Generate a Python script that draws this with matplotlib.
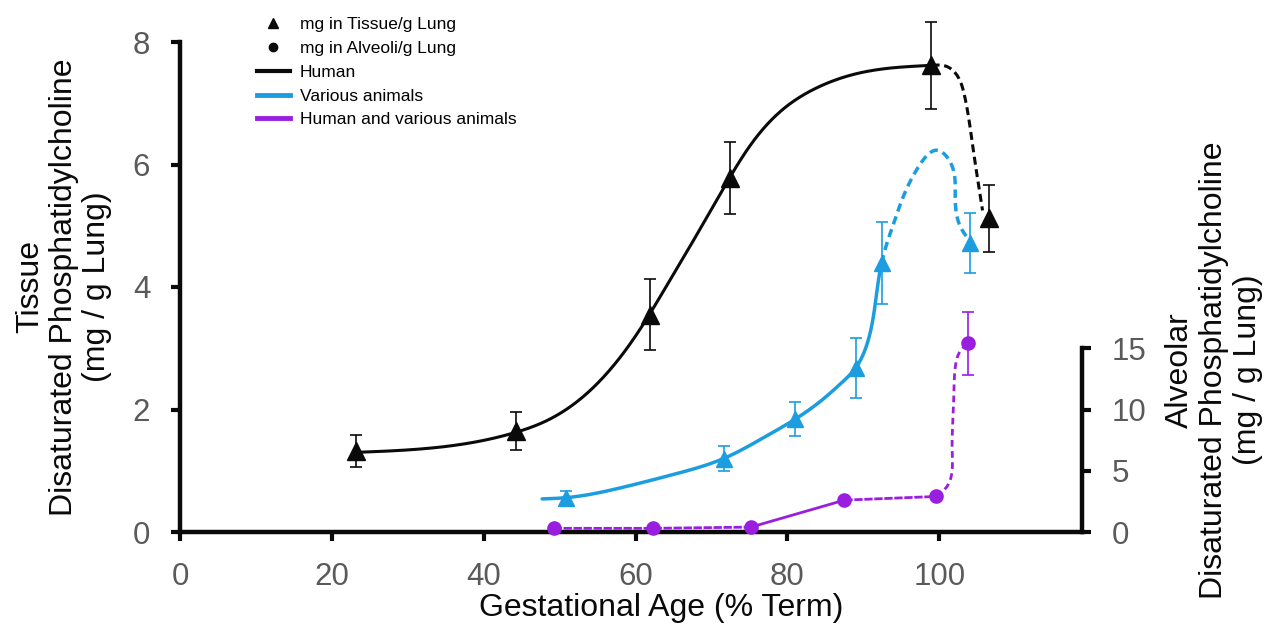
import numpy as np
import matplotlib
matplotlib.use("Agg")
import matplotlib.pyplot as plt
from matplotlib.lines import Line2D
from matplotlib import font_manager

# ---- measured values -------------------------------------------------------
# Tissue DSPC, human (mg / g lung)
human_x = [23.2, 44.3, 61.9, 72.5, 98.9, 106.6]
human_y = [1.32, 1.65, 3.55, 5.78, 7.62, 5.12]
human_err = [0.26, 0.31, 0.58, 0.59, 0.71, 0.55]

# Tissue DSPC, various animals (mg / g lung)
animal_x = [50.8, 71.6, 81.0, 89.0, 92.4, 104.1]
animal_y = [0.55, 1.20, 1.84, 2.68, 4.39, 4.72]
animal_err = [0.12, 0.21, 0.28, 0.49, 0.67, 0.49]

# Alveolar DSPC, human and various animals (mg / g lung, right axis)
alveolar_x = [49.2, 62.3, 75.2, 87.5, 99.6, 103.8]
alveolar_y = [0.3, 0.3, 0.4, 2.6, 2.9, 15.4]
alveolar_err = [0, 0, 0, 0, 0, 2.55]

# Hand-fitted trend lines (knots of a smooth curve); the part after
# the knot at index *_split is drawn dashed
human_fit_x = [23.2, 30.0, 37.0, 44.3, 48.0, 52.0, 56.0, 60.0, 64.0, 68.0,
               72.0, 76.0, 80.0, 84.0, 89.0, 94.0, 99.0, 101.0, 102.2, 103.3,
               104.0, 104.7, 105.3, 105.7]
human_fit_y = [1.30, 1.34, 1.43, 1.63, 1.80, 2.10, 2.56, 3.20, 4.00, 4.84,
               5.70, 6.46, 6.96, 7.26, 7.48, 7.58, 7.62, 7.60, 7.48, 7.14,
               6.66, 6.05, 5.57, 5.25]
human_split = 16

animal_fit_x = [47.7, 50.8, 58.0, 65.0, 71.6, 77.0, 81.0, 85.0, 87.0, 89.0,
                90.3, 91.3, 92.4, 93.2, 94.0, 97.0, 99.9, 101.4, 102.1,
                102.8, 103.9]
animal_fit_y = [0.54, 0.56, 0.72, 0.94, 1.20, 1.55, 1.84, 2.20, 2.42, 2.68,
                3.00, 3.50, 4.39, 4.75, 5.04, 5.91, 6.23, 6.05, 5.47,
                4.98, 4.77]
animal_split = 12

alveolar_tail_x = [99.6, 101.0, 101.7, 101.9, 102.1, 102.8, 103.8]
alveolar_tail_y = [2.9, 3.7, 6.65, 10.7, 13.4, 14.8, 15.4]

x_ticks = [0, 20, 40, 60, 80, 100]
left_ticks = [0, 2, 4, 6, 8]
right_ticks = [0, 5, 10, 15]

legend_labels = ["mg in Tissue/g Lung", "mg in Alveoli/g Lung", "Human",
                 "Various animals", "Human and various animals"]

# ---- styling ---------------------------------------------------------------
BLACK = "#0a0a0a"
BLUE = "#1c9de0"
PURPLE = "#9a1ee0"
TICK_GREY = "#5a5a5a"

installed = {f.name for f in font_manager.fontManager.ttflist}
MAIN_FONT = "Liberation Sans" if "Liberation Sans" in installed else "DejaVu Sans"
NARROW_FONT = ("Liberation Sans Narrow" if "Liberation Sans Narrow" in installed
               else MAIN_FONT)
plt.rcParams["font.family"] = [MAIN_FONT, "DejaVu Sans"]

W, H = 1271, 630
fig = plt.figure(figsize=(W / 100, H / 100), dpi=100)
ax = fig.add_axes([180 / W, 1 - 532 / H, (1082 - 180) / W, (532 - 42) / H])
ax.set_xlim(0, 118.8)
ax.set_ylim(0, 8)
ax2 = ax.twinx()
ax2.set_ylim(0, 40)

N_SEG = 30


def natural_spline(t, v, tt):
    """Natural cubic spline of v(t) evaluated at tt."""
    n = len(t)
    h = np.diff(t)
    A = np.zeros((n, n))
    r = np.zeros(n)
    A[0, 0] = A[-1, -1] = 1.0
    for i in range(1, n - 1):
        A[i, i - 1] = h[i - 1]
        A[i, i] = 2 * (h[i - 1] + h[i])
        A[i, i + 1] = h[i]
        r[i] = 6 * ((v[i + 1] - v[i]) / h[i] - (v[i] - v[i - 1]) / h[i - 1])
    m = np.linalg.solve(A, r)
    idx = np.clip(np.searchsorted(t, tt, side="right") - 1, 0, n - 2)
    t0, t1 = t[idx], t[idx + 1]
    hh = t1 - t0
    a = (t1 - tt) / hh
    b = (tt - t0) / hh
    return (a * v[idx] + b * v[idx + 1]
            + ((a ** 3 - a) * m[idx] + (b ** 3 - b) * m[idx + 1]) * hh ** 2 / 6)


def smooth(axis, xs, ys, n=N_SEG):
    """C2 spline through knots (chord-length parameter, display space).
    Knot k sits at index k * (n - 1) of the returned arrays."""
    pts = axis.transData.transform(np.column_stack([xs, ys]))
    t = np.concatenate([[0], np.cumsum(np.linalg.norm(np.diff(pts, axis=0), axis=1))])
    tt = np.concatenate([np.linspace(t[i], t[i + 1], n)[(0 if i == 0 else 1):]
                         for i in range(len(t) - 1)])
    px = natural_spline(t, pts[:, 0], tt)
    py = natural_spline(t, pts[:, 1], tt)
    curve = axis.transData.inverted().transform(np.column_stack([px, py]))
    return curve[:, 0], curve[:, 1]


def draw_trend(axis, xs, ys, split, color, lw, dashes):
    cx, cy = smooth(axis, xs, ys)
    k = split * (N_SEG - 1)
    axis.plot(cx[:k + 1], cy[:k + 1], color=color, lw=lw,
              solid_capstyle="round", zorder=3)
    axis.plot(cx[k:], cy[k:], color=color, lw=lw, ls=(0, dashes), zorder=3)


# ---- trend lines -----------------------------------------------------------
draw_trend(ax, human_fit_x, human_fit_y, human_split, BLACK, 2.2, (2.6, 1.5))
draw_trend(ax, animal_fit_x, animal_fit_y, animal_split, BLUE, 2.5, (2.4, 1.5))

# alveolar segments between measurements
ax2.plot(alveolar_x[0:3], alveolar_y[0:3], color=PURPLE, lw=2.0,
         ls=(0, (3, 0.6)), zorder=3)
ax2.plot(alveolar_x[2:4], alveolar_y[2:4], color=PURPLE, lw=2.0, zorder=3)
ax2.plot(alveolar_x[3:5], alveolar_y[3:5], color=PURPLE, lw=2.0,
         ls=(0, (3, 0.6)), zorder=3)
cx, cy = smooth(ax2, alveolar_tail_x, alveolar_tail_y)
ax2.plot(cx, cy, color=PURPLE, lw=2.0, ls=(0, (2.4, 1.6)), zorder=3)

# ---- error bars and markers ------------------------------------------------
eb_kw = dict(fmt="none", elinewidth=1.2, capsize=4.3, capthick=1.2,
             clip_on=False, zorder=4)
ax.errorbar(human_x, human_y, yerr=human_err, ecolor=BLACK, **eb_kw)
ax.errorbar(animal_x, animal_y, yerr=animal_err, ecolor=BLUE, **eb_kw)
ax.plot(human_x, human_y, ls="none", marker="^", ms=13, color=BLACK,
        clip_on=False, zorder=5)
ax.plot(animal_x, animal_y, ls="none", marker="^", ms=12, color=BLUE,
        clip_on=False, zorder=5)

err_idx = [i for i, e in enumerate(alveolar_err) if e > 0]
ax2.errorbar([alveolar_x[i] for i in err_idx], [alveolar_y[i] for i in err_idx],
             yerr=[alveolar_err[i] for i in err_idx], ecolor=PURPLE, **eb_kw)
ax2.plot(alveolar_x, alveolar_y, ls="none", marker="o", ms=9.5, color=PURPLE,
         clip_on=False, zorder=5)

# ---- axes ------------------------------------------------------------------
for a in (ax, ax2):
    a.spines["top"].set_visible(False)
ax.spines["right"].set_visible(False)
ax2.spines["left"].set_visible(False)
ax2.spines["bottom"].set_visible(False)
for s in ("left", "bottom"):
    ax.spines[s].set_linewidth(3.2)
    ax.spines[s].set_color(BLACK)
ax2.spines["right"].set_linewidth(3.2)
ax2.spines["right"].set_color(BLACK)
ax2.spines["right"].set_bounds(0, 15)

ax.set_xticks(x_ticks)
ax.set_yticks(left_ticks)
ax2.set_yticks(right_ticks)
for a in (ax, ax2):
    a.tick_params(axis="both", direction="out", length=6.5, width=3,
                  color=BLACK, labelsize=22.5, labelcolor=TICK_GREY, pad=15)

# ---- axis titles -----------------------------------------------------------
fig.text(661 / W, 1 - 608 / H, "Gestational Age (% Term)", ha="center",
         va="center", fontsize=23, color=BLACK)
fig.text(64 / W, 1 - 287 / H,
         "Tissue\nDisaturated Phosphatidylcholine\n(mg / g Lung)",
         rotation=90, ha="center", va="center", ma="center", fontsize=23,
         color=BLACK, linespacing=1.15)
fig.text(1214 / W, 1 - 370 / H,
         "Alveolar\nDisaturated Phosphatidylcholine\n(mg / g Lung)",
         rotation=90, ha="center", va="center", ma="center", fontsize=23,
         color=BLACK, linespacing=1.18)

# ---- legend ----------------------------------------------------------------
handles = [
    Line2D([], [], ls="none", marker="^", ms=7, color=BLACK),
    Line2D([], [], ls="none", marker="o", ms=6, color=BLACK),
    Line2D([], [], color=BLACK, lw=3),
    Line2D([], [], color=BLUE, lw=3.5),
    Line2D([], [], color=PURPLE, lw=3.5),
]
fig.legend(handles, legend_labels, loc="upper left",
           bbox_to_anchor=(257 / W, 1 - 17 / H), bbox_transform=fig.transFigure,
           frameon=False, borderpad=0, borderaxespad=0, handlelength=1.9,
           handletextpad=0.55, labelspacing=0.5,
           prop={"family": NARROW_FONT, "size": 12.5})

fig.savefig("out.png", dpi=100)
